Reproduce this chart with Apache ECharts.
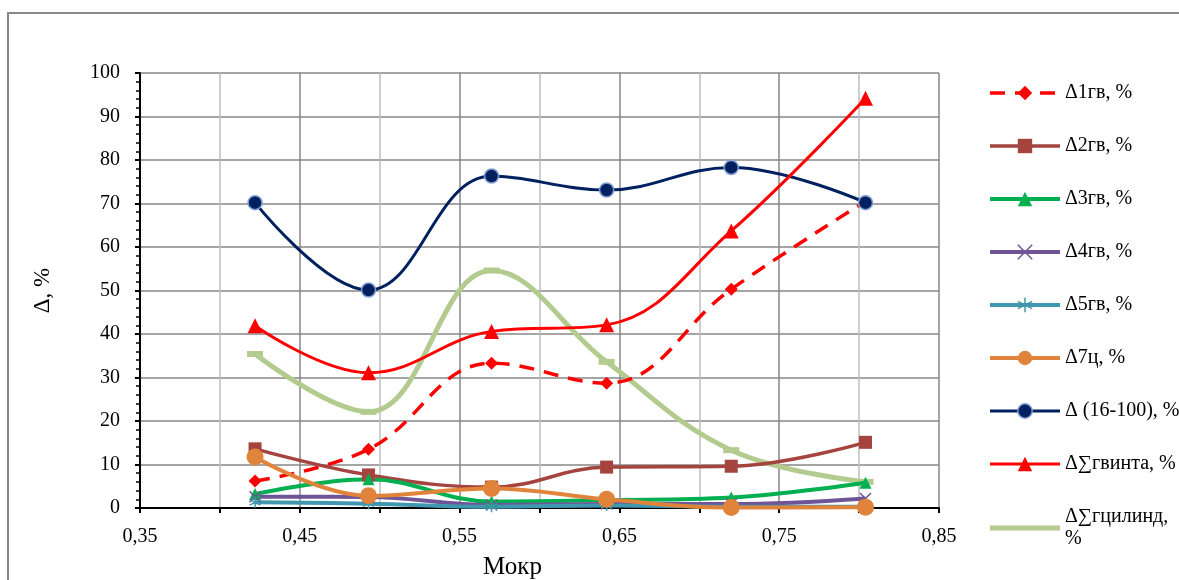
<!DOCTYPE html>
<html>
<head>
<meta charset="utf-8">
<script src="https://cdn.jsdelivr.net/npm/echarts@6/dist/echarts.min.js"></script>
<style>
html,body{margin:0;padding:0;background:#fff;}
#c{width:1179px;height:580px;}
</style>
</head>
<body>
<div id="c"></div>
<script>
// ---- data ----
var xValues = [0.422, 0.493, 0.570, 0.642, 0.720, 0.804];
var d1gv    = [6.2, 13.5, 33.3, 28.7, 50.3, 70.5];
var d2gv    = [13.6, 7.6, 4.8, 9.4, 9.6, 15.1];
var d3gv    = [3.2, 6.6, 1.5, 1.8, 2.4, 5.8];
var d4gv    = [2.6, 2.5, 0.7, 0.9, 0.9, 2.2];
var d5gv    = [1.3, 1.0, 0.3, 0.6, 0.3, 0.3];
var d7c     = [11.7, 2.8, 4.5, 2.0, 0.1, 0.2];
var d16_100 = [70.2, 50.1, 76.3, 73.1, 78.3, 70.2];
var dSumVint = [41.9, 31.1, 40.6, 42.1, 63.7, 94.2];
var dSumCyl  = [35.4, 22.1, 54.6, 33.6, 13.3, 6.0];
var seriesNames = ['Δ1гв, %', 'Δ2гв, %', 'Δ3гв, %', 'Δ4гв, %', 'Δ5гв, %', 'Δ7ц, %', 'Δ (16-100), %', 'Δ∑гвинта, %', 'Δ∑гцилинд,\n%'];
var xMin = 0.35, xMax = 0.85, xStep = 0.05;
var yMin = 0, yMax = 100, yStep = 10;

function pairs(ys){ return xValues.map(function(x,i){ return [x, ys[i]]; }); }

var FONT = 'Liberation Serif';
var xPath = 'path://M0,0L10,10M10,0L0,10';
var starPath = 'path://M5,0L5,10M0,2.5L10,7.5M0,7.5L10,2.5';
var SMOOTH = 0.4;

var legendData = [];
function mk(name, ys, color, width, symbol, size, extra){
  var s = {
    name: name, type: 'line', data: pairs(ys), smooth: SMOOTH,
    symbol: symbol, symbolSize: size, showSymbol: true,
    lineStyle: {color: color, width: width},
    itemStyle: {color: color, borderColor: color, borderWidth: 0},
    emphasis: {disabled: true}
  };
  if (extra) extra(s);
  var li = {
    name: name,
    lineStyle: {color: color, width: width, type: s.lineStyle.type || 'solid'},
    itemStyle: {color: s.itemStyle.color, borderColor: s.itemStyle.borderColor, borderWidth: s.itemStyle.borderWidth}
  };
  if (s.legendIcon) { li.icon = s.legendIcon; delete s.legendIcon; }
  legendData.push(li);
  return s;
}

var series = [
  mk(seriesNames[0], d1gv, '#FF0000', 3.5, 'diamond', 13, function(s){ s.lineStyle.type = [15, 10]; }),
  mk(seriesNames[1], d2gv, '#A5443F', 3.5, 'rect', 13),
  mk(seriesNames[2], d3gv, '#00B050', 4, 'triangle', 12),
  mk(seriesNames[3], d4gv, '#6F5597', 4, xPath, 11, function(s){ s.itemStyle.borderWidth = 1.5; }),
  mk(seriesNames[4], d5gv, '#4098B0', 4, starPath, 11, function(s){ s.itemStyle.borderWidth = 1.5; }),
  mk(seriesNames[5], d7c, '#E0843C', 4, 'circle', 17),
  mk(seriesNames[6], d16_100, '#002060', 3, 'circle', 14, function(s){ s.itemStyle.borderColor = '#7F9FD0'; s.itemStyle.borderWidth = 1.5; }),
  mk(seriesNames[7], dSumVint, '#FF0000', 3, 'triangle', 15),
  mk(seriesNames[8], dSumCyl, '#B4CB8F', 5, 'rect', [16, 6], function(s){ s.z = 1; s.legendIcon = 'path://M0,0L70,0L70,5L0,5Z'; })
];

var chart = echarts.init(document.getElementById('c'), null, {renderer: 'canvas'});
chart.setOption({
  animation: false,
  backgroundColor: '#fff',
  graphic: [{
    type: 'rect', z: -10, silent: true,
    shape: {x: 8, y: 13, width: 1200, height: 620},
    style: {fill: 'none', stroke: '#888888', lineWidth: 2}
  }],
  grid: {left: 140, right: 240, top: 73, bottom: 72, containLabel: false, outerBoundsMode: 'none'},
  legend: {
    orient: 'vertical', left: 983, top: 77,
    itemWidth: 70, itemHeight: 18, itemGap: 31, symbolKeepAspect: true,
    textStyle: {fontFamily: FONT, fontSize: 20, color: '#000', lineHeight: 22},
    data: legendData
  },
  xAxis: {
    type: 'value', min: xMin, max: xMax, interval: xStep,
    name: 'Мокр', nameLocation: 'middle', nameGap: 47,
    nameTextStyle: {fontFamily: FONT, fontSize: 25, color: '#000', padding: [0, 54, 0, 0]},
    axisLine: {show: true, onZero: false, lineStyle: {color: '#000', width: 2}},
    axisTick: {show: true, length: 5, lineStyle: {color: '#000', width: 2}},
    axisLabel: {
      fontFamily: FONT, fontSize: 20, color: '#000', margin: 19,
      formatter: function(v){
        var k = Math.round((v - xMin) / xStep);
        return k % 2 === 0 ? v.toFixed(2).replace('.', ',') : '';
      }
    },
    splitLine: {show: true, lineStyle: {color: ['#878787', '#BEBEBE'], width: 1.5}}
  },
  yAxis: {
    type: 'value', min: yMin, max: yMax, interval: yStep,
    name: 'Δ, %', nameLocation: 'middle', nameGap: 86, nameRotate: 90,
    nameTextStyle: {fontFamily: FONT, fontSize: 23, color: '#000'},
    axisLine: {show: true, lineStyle: {color: '#000', width: 2}},
    axisTick: {show: true, length: 5, lineStyle: {color: '#000', width: 2}},
    minorTick: {show: true, splitNumber: 5, length: 4, lineStyle: {color: '#000', width: 1.5}},
    axisLabel: {fontFamily: FONT, fontSize: 20, color: '#000', margin: 20},
    splitLine: {show: true, lineStyle: {color: '#878787', width: 1.5}}
  },
  series: series
});
</script>
</body>
</html>
